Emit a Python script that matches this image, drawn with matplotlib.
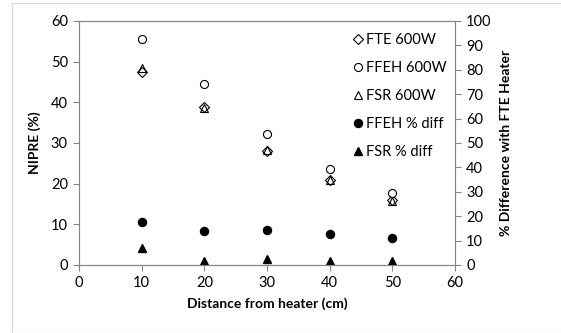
import matplotlib
matplotlib.use("Agg")
import matplotlib.pyplot as plt
from matplotlib.patches import Rectangle

plt.rcParams['font.family'] = ['Lato', 'DejaVu Sans']

# data
distance = [10, 20, 30, 40, 50]
fte_600w = [47.4, 38.8, 28.0, 20.8, 16.0]
ffeh_600w = [55.5, 44.4, 32.1, 23.5, 17.6]
fsr_600w = [48.5, 38.5, 28.3, 20.9, 15.8]
ffeh_diff = [17.6, 14.0, 14.4, 12.7, 11.2]
fsr_diff = [7.1, 1.6, 2.6, 1.8, 1.6]

fig = plt.figure(figsize=(5.61, 3.33), dpi=100)
ax = fig.add_axes([79 / 561, 1 - 265 / 333, (455 - 79) / 561, (265 - 21) / 333])
ax2 = ax.twinx()

# frame round the whole chart
fig.patches.append(Rectangle((12 / 561, 0), 1, 1 - 3 / 333, transform=fig.transFigure,
                             fill=False, edgecolor='#d9d9d9', linewidth=0.8))

ms = 5.8
h1, = ax.plot(distance, fte_600w, 'D', ms=4.6, mfc='white', mec='black', mew=0.8, label='FTE 600W')
h2, = ax.plot(distance, ffeh_600w, 'o', ms=ms, mfc='white', mec='black', mew=0.8, label='FFEH 600W')
h3, = ax.plot(distance, fsr_600w, '^', ms=ms, mfc='none', mec='black', mew=0.8, label='FSR 600W')
h4, = ax2.plot(distance, ffeh_diff, 'o', ms=ms, color='black', label='FFEH % diff')
h5, = ax2.plot(distance, fsr_diff, '^', ms=ms, color='black', label='FSR % diff')

ax.set_xlim(0, 60)
ax.set_ylim(0, 60)
ax2.set_ylim(0, 100)
ax.set_xticks(range(0, 61, 10))
ax.set_yticks(range(0, 61, 10))
ax2.set_yticks(range(0, 101, 10))

for a in (ax, ax2):
    for s in a.spines.values():
        s.set_color('#868686')
        s.set_linewidth(0.8)
    a.tick_params(colors='#868686', labelcolor='black', labelsize=10.5, length=4, width=0.8,
                  direction='out', pad=4)

ax.set_xlabel('Distance from heater (cm)', fontsize=10, fontweight='bold', labelpad=5)
ax.set_ylabel('NIPRE (%)', fontsize=10, fontweight='bold', labelpad=7)
ax2.set_ylabel('% Difference with FTE Heater', fontsize=10, fontweight='bold', labelpad=6)

ax2.legend(handles=[h1, h2, h3, h4, h5], loc='upper right', frameon=False, fontsize=10.5,
           handlelength=0.5, handletextpad=0.25, labelspacing=0.95, borderaxespad=0.2,
           bbox_to_anchor=(1.0, 0.985))

fig.savefig('out.png', dpi=100)
